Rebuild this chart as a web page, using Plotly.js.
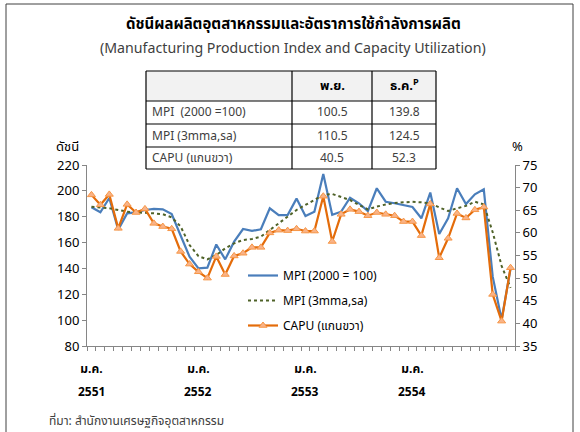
<!DOCTYPE html>
<html>
<head>
<meta charset="utf-8">
<script src="https://cdn.plot.ly/plotly-3.0.1.min.js"></script>
<style>html,body{margin:0;padding:0;background:#fff;}#chart{width:580px;height:432px;}</style>
</head>
<body>
<div id="chart"></div>
<script>
// ---- data ----
var monthNames = ['ม.ค.','ก.พ.','มี.ค.','เม.ย.','พ.ค.','มิ.ย.','ก.ค.','ส.ค.','ก.ย.','ต.ค.','พ.ย.','ธ.ค.'];
var years = ['2551','2552','2553','2554'];
var mpi = [187.3,183.4,194.5,170.0,182.6,183.4,185.2,186.0,185.7,182.0,165.5,149.1,
           140.0,140.6,158.5,147.0,160.7,170.5,169.0,170.3,186.5,181.3,181.3,194.0,
           180.6,183.9,213.0,181.5,183.9,194.7,190.4,184.4,202.0,191.6,190.4,189.1,
           187.5,178.8,198.7,166.6,178.8,202.0,189.8,197.3,201.2,133.6,100.5,139.8];
var mma = [187.8,187.3,186.5,185.2,183.9,183.4,183.1,182.6,181.9,179.5,172.5,158.1,
           149.5,147.0,150.4,155.5,159.4,162.0,162.8,164.6,169.7,174.9,179.5,185.2,
           189.1,192.9,196.8,197.6,195.5,192.9,189.1,185.7,187.8,189.5,190.6,191.2,
           191.6,191.1,190.4,187.2,184.4,186.5,188.4,191.6,189.5,168.0,142.0,125.0];
var capu = [68.4,66.2,68.5,61.0,66.3,64.5,65.3,62.1,61.4,60.9,55.9,53.1,
            51.4,50.0,54.8,50.8,54.9,55.5,56.8,56.8,60.0,60.6,60.5,60.9,
            60.4,60.4,68.1,58.1,64.1,65.2,64.7,63.8,64.5,64.1,63.8,62.5,
            62.5,59.4,66.4,54.5,58.8,64.3,63.3,65.1,65.7,46.4,40.5,52.3];
var seriesNames = ['MPI (2000 = 100)','MPI (3mma,sa)','CAPU (แกนขวา)'];
var tableHeader = ['พ.ย.','ธ.ค.<sup>P</sup>'];
var tableRows = ['MPI  (2000 =100)','MPI (3mma,sa)','CAPU (แกนขวา)'];
var tableNov = ['100.5','110.5','40.5'];
var tableDec = ['139.8','124.5','52.3'];
var leftTicks = [80,100,120,140,160,180,200,220];
var rightTicks = [35,40,45,50,55,60,65,70,75];

// ---- layout helpers ----
var FONT = "Tahoma, 'Noto Sans Thai', 'Noto Sans', 'DejaVu Sans', sans-serif";
var L = 87, R = 515, T = 165, B = 346, W = 580, H = 432;
function px(x){ return (x - L) / (R - L); }
function py(y){ return (B - y) / (B - T); }

var cats = [];
years.forEach(function(y){ monthNames.forEach(function(m){ cats.push(m + ' ' + y); }); });
var tickText = cats.map(function(c, i){ return (i % 12 === 0) ? monthNames[0] : ''; });

var traces = [
  {x: cats, y: mpi, name: seriesNames[0], type: 'scatter', mode: 'lines',
   line: {color: '#4A7EBB', width: 2.2}, legendgroup: 'a'},
  {x: cats, y: mma, name: seriesNames[1], type: 'scatter', mode: 'lines',
   line: {color: '#4F6228', width: 2, dash: 'dot'}, legendgroup: 'b'},
  {x: cats, y: capu, name: seriesNames[2], type: 'scatter', mode: 'lines+markers', yaxis: 'y2',
   line: {color: '#E46C0A', width: 2.2},
   marker: {symbol: 'triangle-up', size: 7, color: '#F9B388', line: {color: '#F79646', width: 1}},
   legendgroup: 'c'}
];

var shapes = [];
// outer frame
shapes.push({type: 'rect', xref: 'paper', yref: 'paper', x0: px(6), x1: px(573), y0: py(440), y1: py(4),
  line: {color: '#404040', width: 1}});
// table
var tL = 146, tR = 436, c1 = 292, c2 = 372;
var rowsY = [71, 101, 124, 147, 169];
shapes.push({type: 'rect', xref: 'paper', yref: 'paper', x0: px(tL), x1: px(tR), y0: py(rowsY[1]), y1: py(rowsY[0]),
  fillcolor: '#F2F2F2', line: {width: 0}, layer: 'below'});
rowsY.forEach(function(y){
  shapes.push({type: 'line', xref: 'paper', yref: 'paper', x0: px(tL), x1: px(tR), y0: py(y), y1: py(y),
    line: {color: '#000', width: 1.2}});
});
[tL, c1, c2, tR].forEach(function(x){
  shapes.push({type: 'line', xref: 'paper', yref: 'paper', x0: px(x), x1: px(x), y0: py(rowsY[4]), y1: py(rowsY[0]),
    line: {color: '#000', width: 1.2}});
});

var ann = [];
function txt(t, x, y, size, opts){
  opts = opts || {};
  ann.push({text: t, xref: 'paper', yref: 'paper', x: px(x), y: py(y), showarrow: false,
    xanchor: opts.xa || 'center', yanchor: 'middle',
    font: {family: FONT, size: size, color: opts.color || '#000'}});
}
txt('<b>ดัชนีผลผลิตอุตสาหกรรมและอัตราการใช้กำลังการผลิต</b>', 293, 24, 15);
txt('(Manufacturing Production Index and Capacity Utilization)', 293, 48, 14.2, {color: '#404040'});
txt('<b>' + tableHeader[0] + '</b>', (c1 + c2) / 2, 86, 13);
txt('<b>' + tableHeader[1] + '</b>', (c2 + tR) / 2, 86, 13);
tableRows.forEach(function(r, i){
  var yc = (rowsY[i + 1] + rowsY[i + 2]) / 2;
  txt(r, tL + 4, yc, 12, {xa: 'left', color: '#404040'});
  txt(tableNov[i], (c1 + c2) / 2, yc, 12, {color: '#404040'});
  txt(tableDec[i], (c2 + tR) / 2, yc, 12, {color: '#404040'});
});
txt('ดัชนี', 67, 147, 13);
txt('%', 517, 147, 13);
txt('ที่มา: สำนักงานเศรษฐกิจอุตสาหกรรม', 47, 421, 12, {xa: 'left', color: '#404040'});
years.forEach(function(y, i){
  ann.push({text: '<b>' + y + '</b>', xref: 'x', yref: 'paper', x: cats[i * 12], y: py(392),
    showarrow: false, xanchor: 'center', yanchor: 'middle', font: {family: FONT, size: 12, color: '#000'}});
});

var layout = {
  width: W, height: H,
  margin: {l: L, r: W - R, t: T, b: H - B, pad: 0},
  paper_bgcolor: '#fff', plot_bgcolor: '#fff',
  font: {family: FONT, size: 12, color: '#000'},
  showlegend: true,
  legend: {x: px(243), y: py(261), xanchor: 'left', yanchor: 'top', bgcolor: 'rgba(0,0,0,0)',
    font: {family: FONT, size: 12, color: '#000'}, traceorder: 'grouped', tracegroupgap: 6, itemwidth: 30},
  xaxis: {type: 'category', range: [-0.5, cats.length - 0.5], tickmode: 'array', tickvals: cats, ticktext: tickText,
    tickson: 'boundaries', ticks: 'outside', ticklen: 4, tickcolor: '#868686', showgrid: false,
    showline: true, linecolor: '#868686', linewidth: 1, zeroline: false, tickangle: 0,
    ticklabelstandoff: 12, tickfont: {family: FONT, size: 12, color: '#000', weight: 'bold'}},
  yaxis: {range: [80, 220], tickmode: 'array', tickvals: leftTicks, ticks: 'outside', ticklen: 4,
    tickcolor: '#868686', showline: true, linecolor: '#868686', showgrid: false, zeroline: false,
    tickfont: {family: FONT, size: 13, color: '#000'}},
  yaxis2: {range: [35, 75], overlaying: 'y', side: 'right', tickmode: 'array', tickvals: rightTicks,
    ticks: 'outside', ticklen: 4, tickcolor: '#868686', showline: true, linecolor: '#868686',
    showgrid: false, zeroline: false, tickfont: {family: FONT, size: 13, color: '#000'}},
  shapes: shapes,
  annotations: ann
};

Plotly.newPlot('chart', traces, layout, {displayModeBar: false, staticPlot: true});
</script>
</body>
</html>
